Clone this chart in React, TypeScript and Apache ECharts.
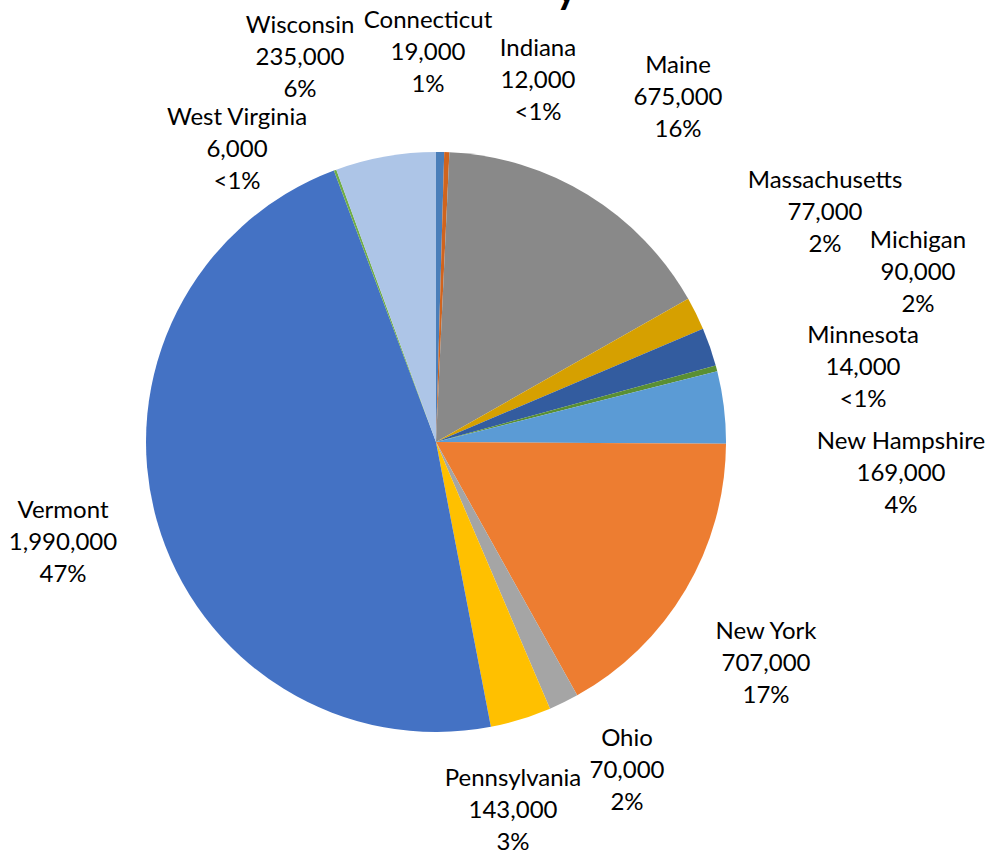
import React, { useEffect, useRef } from "react";
import * as echarts from "echarts";

const states = [
  "Connecticut", "Indiana", "Maine", "Massachusetts", "Michigan", "Minnesota",
  "New Hampshire", "New York", "Ohio", "Pennsylvania", "Vermont", "West Virginia", "Wisconsin",
];
const gallons = [19000, 12000, 675000, 77000, 90000, 14000, 169000, 707000, 70000, 143000, 1990000, 6000, 235000];
const percentLabels = ["1%", "<1%", "16%", "2%", "2%", "<1%", "4%", "17%", "2%", "3%", "47%", "<1%", "6%"];

const colors = [
  "#4A7EB9", "#D0641E", "#898989", "#D6A000", "#335C9F", "#5A8F33",
  "#5B9BD5", "#ED7D31", "#A5A5A5", "#FFC000", "#4472C4", "#70AD47", "#ADC5E7",
];

// label block centres (layout only)
const labelPos: [number, number][] = [
  [428, 50], [538, 78], [678, 95], [825, 210], [918, 270], [863, 365],
  [901, 471], [766, 661], [627, 768], [513, 808], [63, 540], [237, 147], [300, 55],
];

export default function App() {
  const ref = useRef<HTMLDivElement>(null);
  useEffect(() => {
    if (!ref.current) return;
    const chart = echarts.init(ref.current, null, { renderer: "svg" });
    const fmt = (v: number) => v.toLocaleString("en-US");
    chart.setOption({
      animation: false,
      backgroundColor: "#ffffff",
      graphic: [
        {
          type: "text",
          left: 556,
          top: -32,
          style: { text: "y", font: "bold 40px Lato", fill: "#000" },
        },
      ],
      series: [
        {
          type: "pie",
          center: [436, 442],
          radius: 290,
          startAngle: 90,
          clockwise: true,
          data: states.map((s, i) => ({
            name: s,
            value: gallons[i],
            itemStyle: { color: colors[i] },
          })),
          itemStyle: { borderWidth: 0 },
          label: {
            show: true,
            position: "outside",
            formatter: (p: any) => `${p.name}\n${fmt(p.value)}\n${percentLabels[p.dataIndex]}`,
            fontFamily: "Lato",
            fontSize: 24,
            lineHeight: 32,
            color: "#000",
            align: "center",
            overflow: "none",
          },
          labelLine: { show: false },
          labelLayout: (params: any) => {
            const p = labelPos[params.dataIndex];
            return { x: p[0], y: p[1], align: "center", verticalAlign: "middle", hideOverlap: false };
          },
          emphasis: { disabled: true },
        },
      ],
    });
    return () => chart.dispose();
  }, []);
  return (
    <div
      ref={ref}
      style={{ position: "fixed", left: 0, top: 0, width: 995, height: 852 }}
    />
  );
}
